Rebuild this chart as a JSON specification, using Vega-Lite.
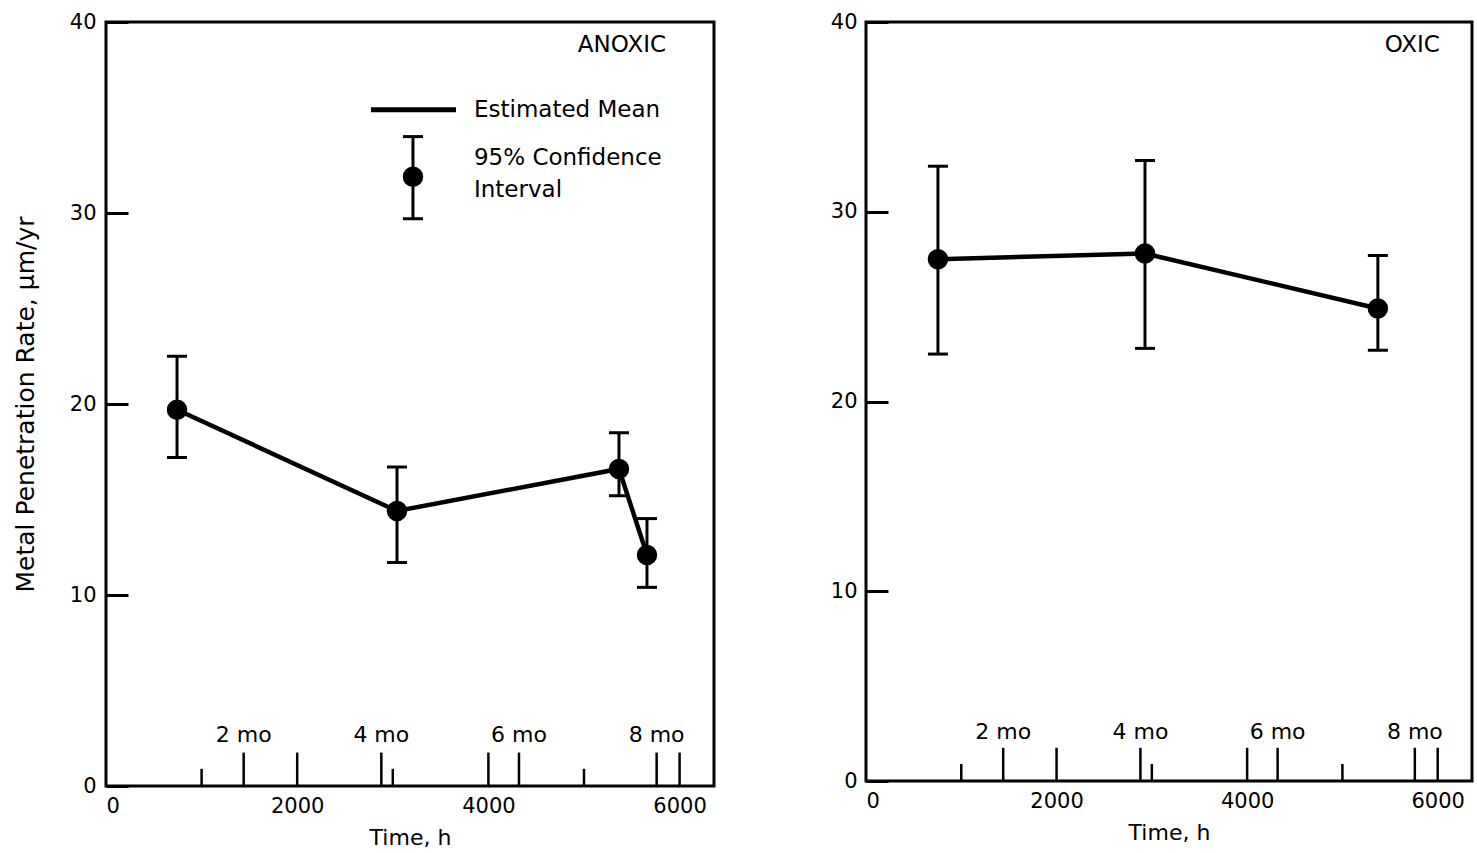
{
  "$schema": "https://vega.github.io/schema/vega-lite/v6.json",
  "background": "white",
  "padding": {"left": 11, "top": 9, "right": 5, "bottom": 5},
  "bounds": "flush",
  "spacing": 152,
  "config": {
    "font": "DejaVu Sans",
    "view": {"stroke": "black", "strokeWidth": 3},
    "axis": {
      "grid": false,
      "domain": false,
      "labelFont": "DejaVu Sans",
      "labelFontSize": 21,
      "labelColor": "black",
      "titleFont": "DejaVu Sans",
      "titleFontSize": 22,
      "titleFontWeight": "normal",
      "titleColor": "black",
      "tickColor": "black"
    },
    "text": {"font": "DejaVu Sans", "fontSize": 22, "color": "black"}
  },
  "datasets": {
    "anoxic": [
      {"hours": 743, "rate": 19.7, "lo": 17.2, "hi": 22.5},
      {"hours": 3044, "rate": 14.4, "lo": 11.7, "hi": 16.7},
      {"hours": 5366, "rate": 16.6, "lo": 15.2, "hi": 18.5},
      {"hours": 5659, "rate": 12.1, "lo": 10.4, "hi": 14.0}
    ],
    "oxic": [
      {"hours": 755, "rate": 27.5, "lo": 22.5, "hi": 32.4},
      {"hours": 2928, "rate": 27.8, "lo": 22.8, "hi": 32.7},
      {"hours": 5372, "rate": 24.9, "lo": 22.7, "hi": 27.7}
    ],
    "timeMarks": [
      {"hours": 1000, "tick": "short"},
      {"hours": 1440, "tick": "long", "label": "2 mo"},
      {"hours": 2000, "tick": "long"},
      {"hours": 2880, "tick": "long", "label": "4 mo"},
      {"hours": 3000, "tick": "short"},
      {"hours": 4000, "tick": "long"},
      {"hours": 4320, "tick": "long", "label": "6 mo"},
      {"hours": 5000, "tick": "short"},
      {"hours": 5760, "tick": "long", "label": "8 mo"},
      {"hours": 6000, "tick": "long"}
    ],
    "single": [{}]
  },
  "hconcat": [
    {
      "width": 608,
      "height": 764,
      "layer": [
        {
          "data": {"name": "anoxic"},
          "mark": {"type": "line", "color": "black", "strokeWidth": 4.5},
          "encoding": {
            "x": {
              "field": "hours", "type": "quantitative",
              "scale": {"domain": [0, 6360], "nice": false},
              "title": "Time, h",
              "axis": {"values": [0, 2000, 4000, 6000], "format": "d", "ticks": false, "labelPadding": 9, "labelFlush": true, "titlePadding": 11}
            },
            "y": {
              "field": "rate", "type": "quantitative",
              "scale": {"domain": [0, 40], "nice": false},
              "title": "Metal Penetration Rate, μm/yr",
              "axis": {"values": [0, 10, 20, 30, 40], "tickSize": -22, "tickWidth": 3, "labelPadding": 32, "titlePadding": 31, "titleFontSize": 25}
            }
          }
        },
        {
          "data": {"name": "anoxic"},
          "mark": {"type": "errorbar", "ticks": {"size": 20, "thickness": 3, "color": "black", "opacity": 1}, "rule": {"strokeWidth": 3, "color": "black", "opacity": 1}},
          "encoding": {
            "x": {"field": "hours", "type": "quantitative", "title": "Time, h"},
            "y": {"field": "lo", "type": "quantitative", "title": "Metal Penetration Rate, μm/yr"},
            "y2": {"field": "hi"}
          }
        },
        {
          "data": {"name": "anoxic"},
          "mark": {"type": "point", "filled": true, "size": 420, "color": "black", "opacity": 1},
          "encoding": {
            "x": {"field": "hours", "type": "quantitative"},
            "y": {"field": "rate", "type": "quantitative"}
          }
        },
        {
          "data": {"name": "timeMarks"},
          "transform": [{"filter": "datum.tick == 'long'"}],
          "mark": {"type": "rule", "color": "black", "strokeWidth": 2.5},
          "encoding": {
            "x": {"field": "hours", "type": "quantitative"},
            "y": {"datum": 0, "type": "quantitative"},
            "y2": {"datum": 1.75}
          }
        },
        {
          "data": {"name": "timeMarks"},
          "transform": [{"filter": "datum.tick == 'short'"}],
          "mark": {"type": "rule", "color": "black", "strokeWidth": 2.5},
          "encoding": {
            "x": {"field": "hours", "type": "quantitative"},
            "y": {"datum": 0, "type": "quantitative"},
            "y2": {"datum": 0.9}
          }
        },
        {
          "data": {"name": "timeMarks"},
          "transform": [{"filter": "isValid(datum.label)"}],
          "mark": {"type": "text", "align": "center", "baseline": "middle"},
          "encoding": {
            "x": {"field": "hours", "type": "quantitative"},
            "y": {"datum": 2.65, "type": "quantitative"},
            "text": {"field": "label"}
          }
        },
        {
          "data": {"name": "single"},
          "mark": {"type": "text", "align": "right", "baseline": "middle", "text": "ANOXIC", "fontSize": 23},
          "encoding": {
            "x": {"datum": 5858, "type": "quantitative"},
            "y": {"datum": 38.8, "type": "quantitative"}
          }
        },
        {
          "data": {"name": "single"},
          "mark": {"type": "rule", "color": "black", "strokeWidth": 5},
          "encoding": {
            "x": {"datum": 2772, "type": "quantitative"},
            "x2": {"datum": 3661},
            "y": {"datum": 35.4, "type": "quantitative"}
          }
        },
        {
          "data": {"name": "single"},
          "mark": {"type": "rule", "color": "black", "strokeWidth": 3},
          "encoding": {
            "x": {"datum": 3211, "type": "quantitative"},
            "y": {"datum": 29.7, "type": "quantitative"},
            "y2": {"datum": 34.0}
          }
        },
        {
          "data": {"name": "single"},
          "mark": {"type": "rule", "color": "black", "strokeWidth": 3},
          "encoding": {
            "x": {"datum": 3106, "type": "quantitative"},
            "x2": {"datum": 3316},
            "y": {"datum": 34.0, "type": "quantitative"}
          }
        },
        {
          "data": {"name": "single"},
          "mark": {"type": "rule", "color": "black", "strokeWidth": 3},
          "encoding": {
            "x": {"datum": 3106, "type": "quantitative"},
            "x2": {"datum": 3316},
            "y": {"datum": 29.7, "type": "quantitative"}
          }
        },
        {
          "data": {"name": "single"},
          "mark": {"type": "point", "filled": true, "size": 420, "color": "black", "opacity": 1},
          "encoding": {
            "x": {"datum": 3211, "type": "quantitative"},
            "y": {"datum": 31.9, "type": "quantitative"}
          }
        },
        {
          "data": {"name": "single"},
          "mark": {"type": "text", "align": "left", "baseline": "middle", "text": "Estimated Mean", "fontSize": 23},
          "encoding": {
            "x": {"datum": 3849, "type": "quantitative"},
            "y": {"datum": 35.4, "type": "quantitative"}
          }
        },
        {
          "data": {"name": "single"},
          "mark": {"type": "text", "align": "left", "baseline": "middle", "text": "95% Confidence", "fontSize": 23},
          "encoding": {
            "x": {"datum": 3849, "type": "quantitative"},
            "y": {"datum": 32.9, "type": "quantitative"}
          }
        },
        {
          "data": {"name": "single"},
          "mark": {"type": "text", "align": "left", "baseline": "middle", "text": "Interval", "fontSize": 23},
          "encoding": {
            "x": {"datum": 3849, "type": "quantitative"},
            "y": {"datum": 31.2, "type": "quantitative"}
          }
        }
      ]
    },
    {
      "width": 606,
      "height": 759,
      "layer": [
        {
          "data": {"name": "oxic"},
          "mark": {"type": "line", "color": "black", "strokeWidth": 4.5},
          "encoding": {
            "x": {
              "field": "hours", "type": "quantitative",
              "scale": {"domain": [0, 6360], "nice": false},
              "title": "Time, h",
              "axis": {"values": [0, 2000, 4000, 6000], "format": "d", "ticks": false, "labelPadding": 9, "labelFlush": true, "titlePadding": 11}
            },
            "y": {
              "field": "rate", "type": "quantitative",
              "scale": {"domain": [0, 40], "nice": false},
              "title": null,
              "axis": {"values": [0, 10, 20, 30, 40], "tickSize": -22, "tickWidth": 3, "labelPadding": 31}
            }
          }
        },
        {
          "data": {"name": "oxic"},
          "mark": {"type": "errorbar", "ticks": {"size": 20, "thickness": 3, "color": "black", "opacity": 1}, "rule": {"strokeWidth": 3, "color": "black", "opacity": 1}},
          "encoding": {
            "x": {"field": "hours", "type": "quantitative", "title": "Time, h"},
            "y": {"field": "lo", "type": "quantitative", "title": null},
            "y2": {"field": "hi"}
          }
        },
        {
          "data": {"name": "oxic"},
          "mark": {"type": "point", "filled": true, "size": 420, "color": "black", "opacity": 1},
          "encoding": {
            "x": {"field": "hours", "type": "quantitative"},
            "y": {"field": "rate", "type": "quantitative"}
          }
        },
        {
          "data": {"name": "timeMarks"},
          "transform": [{"filter": "datum.tick == 'long'"}],
          "mark": {"type": "rule", "color": "black", "strokeWidth": 2.5},
          "encoding": {
            "x": {"field": "hours", "type": "quantitative"},
            "y": {"datum": 0, "type": "quantitative"},
            "y2": {"datum": 1.75}
          }
        },
        {
          "data": {"name": "timeMarks"},
          "transform": [{"filter": "datum.tick == 'short'"}],
          "mark": {"type": "rule", "color": "black", "strokeWidth": 2.5},
          "encoding": {
            "x": {"field": "hours", "type": "quantitative"},
            "y": {"datum": 0, "type": "quantitative"},
            "y2": {"datum": 0.9}
          }
        },
        {
          "data": {"name": "timeMarks"},
          "transform": [{"filter": "isValid(datum.label)"}],
          "mark": {"type": "text", "align": "center", "baseline": "middle"},
          "encoding": {
            "x": {"field": "hours", "type": "quantitative"},
            "y": {"datum": 2.6, "type": "quantitative"},
            "text": {"field": "label"}
          }
        },
        {
          "data": {"name": "single"},
          "mark": {"type": "text", "align": "right", "baseline": "middle", "text": "OXIC", "fontSize": 23},
          "encoding": {
            "x": {"datum": 6023, "type": "quantitative"},
            "y": {"datum": 38.8, "type": "quantitative"}
          }
        }
      ]
    }
  ]
}
